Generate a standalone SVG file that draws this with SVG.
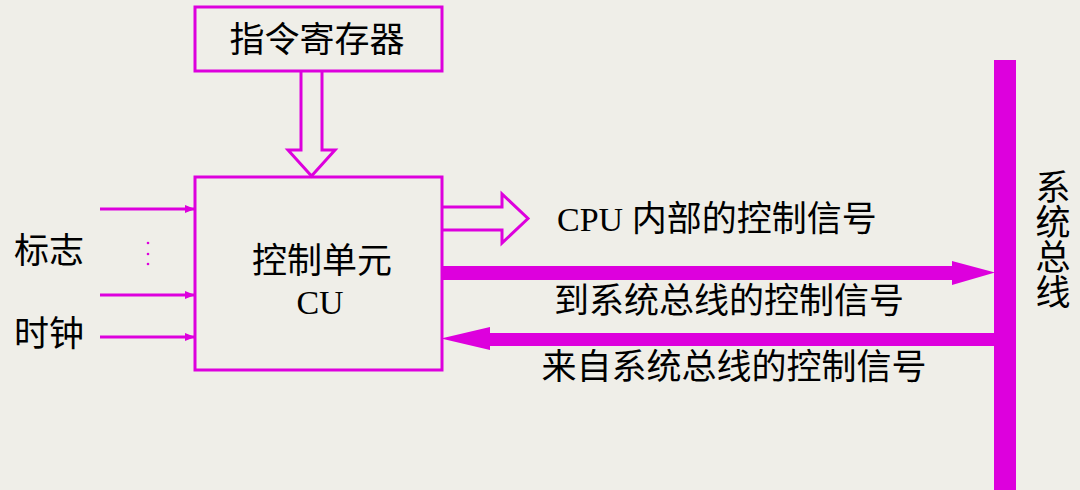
<svg xmlns="http://www.w3.org/2000/svg" width="1080" height="490" viewBox="0 0 1080 490">
<style>
.box{fill:none;stroke:#dd00dd;stroke-width:3}
.hollow{fill:none;stroke:#dd00dd;stroke-width:3;stroke-linejoin:miter}
.solid{fill:#dd00dd;stroke:none}
.thin{stroke:#dd00dd;stroke-width:3;fill:none}
.cjk{font-family:"Liberation Sans","Noto Sans CJK SC",sans-serif;font-size:35px;fill:#000}
.ser{font-family:"Liberation Serif","Noto Sans CJK SC",serif;font-size:34px;fill:#000}
</style>
<defs>
<marker id="ah" markerWidth="10" markerHeight="8" refX="9" refY="4" orient="auto" markerUnits="userSpaceOnUse">
<path d="M0,0 L10,4 L0,8 Z" fill="#dd00dd"/>
</marker>
</defs>
<rect width="1080" height="490" fill="#efeee8"/>
<g id="ir">
<rect class="box" x="195" y="7" width="247" height="64"/>
<text class="cjk" x="317" y="52" text-anchor="middle">指令寄存器</text>
</g>
<g id="cu">
<rect class="box" x="195" y="177" width="247" height="193"/>
<text class="cjk" x="322" y="273" text-anchor="middle">控制单元</text>
<text class="ser" x="320" y="314" text-anchor="middle">CU</text>
</g>
<g id="bus">
<rect class="solid" x="994" y="60" width="22" height="430"/>
<text class="cjk" x="1050" y="169" writing-mode="vertical-rl">系统总线</text>
</g>
<g id="labels">
<text class="cjk" x="14" y="263">标志</text>
<text class="cjk" x="14" y="346">时钟</text>
<circle cx="148" cy="243" r="1.3" fill="#dd00dd"/>
<circle cx="148" cy="254" r="1.3" fill="#dd00dd"/>
<circle cx="148" cy="264" r="1.3" fill="#dd00dd"/>
<text x="557" y="231"><tspan class="ser">CPU </tspan><tspan class="cjk">内部的控制信号</tspan></text>
<text class="cjk" x="729" y="313" text-anchor="middle">到系统总线的控制信号</text>
<text class="cjk" x="734" y="379" text-anchor="middle">来自系统总线的控制信号</text>
</g>
<g id="connectors">
<path class="hollow" d="M301,71 V150 H288 L311.5,176 L335,150 H322 V71"/>
<path class="hollow" d="M442,207 H502 V194 L528,218.5 L502,243 V230 H442"/>
<line class="thin" x1="100" y1="209" x2="194" y2="209" marker-end="url(#ah)"/>
<line class="thin" x1="100" y1="295" x2="194" y2="295" marker-end="url(#ah)"/>
<line class="thin" x1="100" y1="337" x2="194" y2="337" marker-end="url(#ah)"/>
<path class="solid" d="M442,266 H952 V261 L995,272.5 L952,285 V280 H442 Z"/>
<path class="solid" d="M994,333 H490 V327 L441,338.5 L490,350 V346 H994 Z"/>
</g>
</svg>
